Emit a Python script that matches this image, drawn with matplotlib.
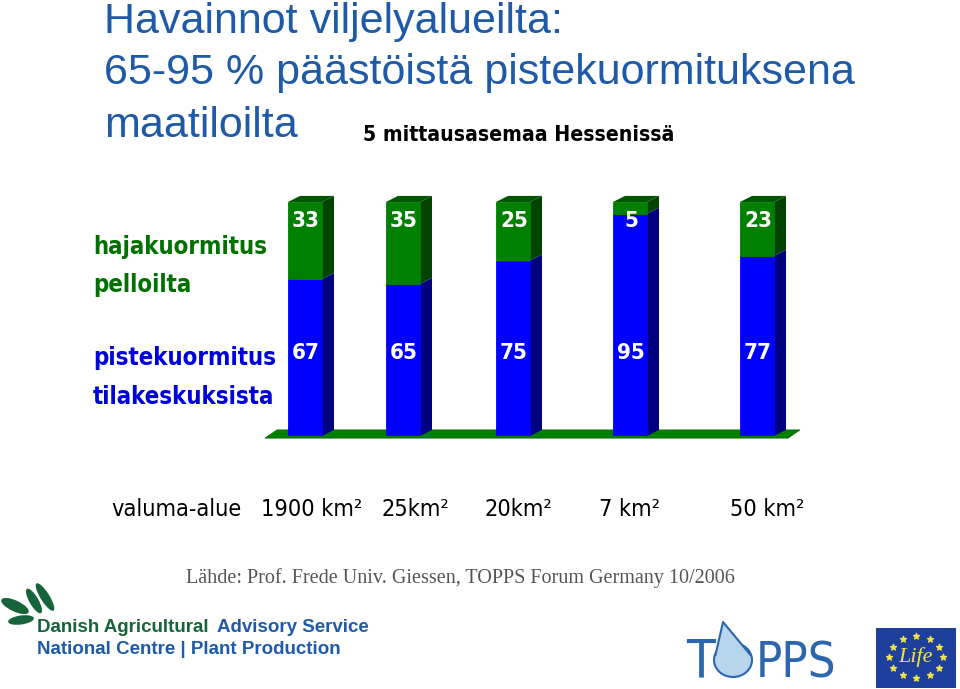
import numpy as np
import matplotlib.pyplot as plt
from matplotlib.patches import Polygon, Rectangle, Ellipse

# data
stations = ["1900 km²", "25km²", "20km²", "7 km²", "50 km²"]
piste = [67, 65, 75, 95, 77]      # pistekuormitus tilakeskuksista (%)
haja = [33, 35, 25, 5, 23]        # hajakuormitus pelloilta (%)

# layout (pixel-like x positions of the bars and their labels)
bar_x = [305, 403, 513, 630, 757]
lab_x = [312, 415, 518, 630, 767]
w, dx, dy = 34, 12, 2.6

BLUE, BLUE_S = "#0000ff", "#000080"
GREEN, GREEN_S, GREEN_T = "#008000", "#004400", "#005500"
TITLE = "#1f5aa8"
NARROW = dict(family="DejaVu Sans", fontstretch="condensed")

fig = plt.figure(figsize=(9.6, 6.89), dpi=100)

# chart axes: value 0 at pixel row 436, value 100 at row 202
ax = fig.add_axes([0, 1 - 436 / 689, 1, 234 / 689])
ax.set_xlim(0, 960)
ax.set_ylim(0, 100)
ax.axis("off")

# floor
ax.add_patch(Polygon([(265, -0.9), (277, dy), (800, dy), (788, -0.9)],
                     closed=True, fc=GREEN, ec="#006000", lw=0.5,
                     clip_on=False, zorder=1))

ax.bar(bar_x, piste, width=w, color=BLUE, ec=BLUE, lw=0.6, zorder=3)
ax.bar(bar_x, haja, width=w, bottom=piste, color=GREEN, ec=GREEN, lw=0.6,
       zorder=3)

for x, b, g in zip(bar_x, piste, haja):
    r = x + w / 2
    top = b + g
    ax.add_patch(Polygon([(r, 0), (r + dx, dy), (r + dx, b + dy), (r, b)],
                         fc=BLUE_S, ec="none", clip_on=False, zorder=2))
    ax.add_patch(Polygon([(r, b), (r + dx, b + dy), (r + dx, top + dy), (r, top)],
                         fc=GREEN_S, ec="none", clip_on=False, zorder=2))
    ax.add_patch(Polygon([(x - w / 2, top), (x - w / 2 + dx, top + dy),
                          (r + dx, top + dy), (r, top)],
                         fc=GREEN_T, ec="none", clip_on=False, zorder=2))
    ax.text(x + 1, 92, str(g), color="white", fontsize=16, fontweight="bold",
            ha="center", va="center", zorder=4, **NARROW)
    ax.text(x + 1, 35.5, str(b), color="white", fontsize=16, fontweight="bold",
            ha="center", va="center", zorder=4, **NARROW)

# overlay axes in pixel coordinates for texts and logos
ov = fig.add_axes([0, 0, 1, 1], zorder=-1)
ov.set_xlim(0, 960)
ov.set_ylim(689, 0)
ov.axis("off")

for y, s in zip([33, 84, 137], ["Havainnot viljelyalueilta:",
                                 "65-95 % päästöistä pistekuormituksena",
                                 "maatiloilta"]):
    ov.text(104, y, s, color=TITLE, fontsize=31, family="Liberation Sans",
            va="baseline")
ov.text(363, 141, "5 mittausasemaa Hessenissä", color="black", fontsize=15.2,
        fontweight="bold", va="baseline", **NARROW)

ov.text(93, 247, "hajakuormitus", color="#007000", fontsize=17.2,
        fontweight="bold", va="center", **NARROW)
ov.text(93, 285, "pelloilta", color="#007000", fontsize=17.2,
        fontweight="bold", va="center", **NARROW)
ov.text(93, 358, "pistekuormitus", color="#0000dd", fontsize=17.2,
        fontweight="bold", va="center", **NARROW)
ov.text(93, 397, "tilakeskuksista", color="#0000dd", fontsize=17.2,
        fontweight="bold", va="center", **NARROW)

ov.text(176, 510, "valuma-alue", fontsize=16.8, ha="center", va="center",
        **NARROW)
for x, s in zip(lab_x, stations):
    ov.text(x, 510, s, fontsize=16.8, ha="center", va="center", **NARROW)

ov.text(460, 578, "Lähde: Prof. Frede Univ. Giessen, TOPPS Forum Germany 10/2006",
        color="#555555", fontsize=14.5, family="Liberation Serif",
        ha="center", va="center")

# Danish Agricultural Advisory Service logo
LEAF = "#17643a"
ov.add_patch(Ellipse((15, 606), 30, 11, angle=25, fc=LEAF, ec="none"))
ov.add_patch(Ellipse((21, 620), 26, 9, angle=-8, fc=LEAF, ec="none"))
ov.add_patch(Ellipse((34, 601), 9, 28, angle=-30, fc=LEAF, ec="none"))
ov.add_patch(Ellipse((45, 597), 9, 32, angle=-32, fc=LEAF, ec="none"))
ov.text(37, 627, "Danish Agricultural", color=LEAF, fontsize=13.5,
        fontweight="bold", family="Liberation Sans", va="center")
ov.text(217, 627, "Advisory Service", color="#1f5aa8", fontsize=13.5,
        fontweight="bold", family="Liberation Sans", va="center")
ov.text(37, 650, "National Centre | Plant Production", color="#1f5aa8",
        fontsize=13.5, fontweight="bold", family="Liberation Sans",
        va="center")

# TOPPS logo
ov.text(686, 677, "T", color="#2c66ad", fontsize=38, fontweight="light",
        va="baseline", **NARROW)
ov.text(756, 677, "PPS", color="#2c66ad", fontsize=35, fontweight="light",
        va="baseline", **NARROW)
ov.add_patch(Ellipse((733, 660), 38, 34, fc="#b8d5ee", ec="#2c66ad", lw=1.5,
                     zorder=2))
ov.add_patch(Polygon([(715, 655), (723, 622), (751, 655)], fc="#b8d5ee",
                     ec="none", zorder=3))
ov.plot([715.5, 723, 750.5], [655, 622, 655], color="#2c66ad", lw=1.5,
        zorder=3)

# EU Life flag
ov.add_patch(Rectangle((876, 628), 80, 60, fc="#1f3f9c", ec="none"))
ang = np.linspace(0, 2 * np.pi, 13)[:-1]
ov.scatter(916 + 27 * np.cos(ang), 657 + 21 * np.sin(ang), marker="*", s=20,
           color="#f2e24a", zorder=3)
ov.text(916, 657, "Life", color="#f2e24a", fontsize=16, style="italic",
        family="Liberation Serif", ha="center", va="center")

fig.savefig("out.png", dpi=100)
